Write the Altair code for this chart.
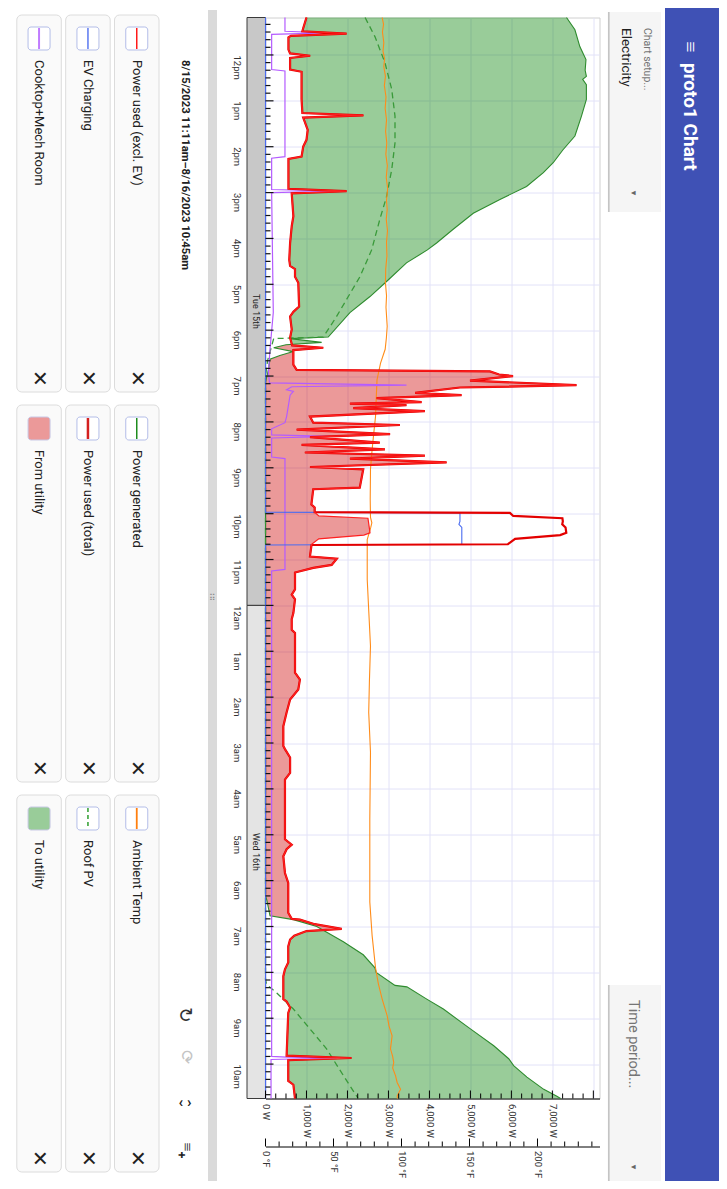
import altair as alt
import pandas as pd
import numpy as np

# ---------------- values ----------------
# power used excluding EV (W)
used_excl = [
    ("15 11:11", 1000), ("15 11:25", 920), ("15 11:29", 900), ("15 11:32", 1980), ("15 11:35", 620), ("15 11:37", 560),
    ("15 11:53", 560), ("15 11:58", 600), ("15 12:01", 1090), ("15 12:04", 600), ("15 12:19", 600), ("15 12:22", 880),
    ("15 12:58", 880), ("15 13:16", 900), ("15 13:19", 2390), ("15 13:22", 920), ("15 13:38", 1030), ("15 13:51", 1000),
    ("15 14:00", 920), ("15 14:13", 880), ("15 14:16", 560), ("15 14:55", 560), ("15 14:58", 1980), ("15 15:01", 640),
    ("15 15:31", 680), ("15 15:44", 640), ("15 16:06", 600), ("15 16:28", 580), ("15 16:36", 600), ("15 16:40", 720),
    ("15 16:50", 720), ("15 16:58", 800), ("15 17:29", 820), ("15 17:36", 680), ("15 17:42", 600), ("15 17:59", 640),
    ("15 18:10", 600), ("15 18:20", 650), ("15 18:23", 1410), ("15 18:26", 680), ("15 18:45", 680), ("15 18:52", 760),
    ("15 18:54", 5475), ("15 18:58", 5700), ("15 19:00", 6040), ("15 19:06", 4990), ("15 19:12", 7590), ("15 19:15", 4745),
    ("15 19:22", 3650), ("15 19:25", 4785), ("15 19:29", 2710), ("15 19:34", 3810), ("15 19:36", 2060), ("15 19:38", 3440),
    ("15 19:42", 2140), ("15 19:46", 3890), ("15 19:53", 1085), ("15 20:01", 1165), ("15 20:04", 3280), ("15 20:10", 760),
    ("15 20:16", 3040), ("15 20:20", 1085), ("15 20:27", 2790), ("15 20:30", 880), ("15 20:36", 2915), ("15 20:40", 960),
    ("15 20:44", 3890), ("15 20:48", 2060), ("15 20:53", 4420), ("15 20:59", 1085), ("15 21:02", 2385), ("15 21:26", 2300),
    ("15 21:28", 1165), ("15 21:48", 1120), ("15 21:52", 1200), ("15 21:58", 1200), ("15 22:03", 1300), ("15 22:06", 2500),
    ("15 22:25", 2550), ("15 22:28", 2400), ("15 22:33", 1300), ("15 22:40", 1125), ("15 22:56", 1085), ("15 22:59", 1740),
    ("15 23:07", 1615), ("15 23:11", 1165), ("15 23:17", 720), ("15 23:39", 720), ("15 23:46", 640), ("15 23:52", 720),
    ("16 00:10", 680), ("16 00:18", 640), ("16 00:32", 640), ("16 00:36", 720), ("16 01:28", 720), ("16 01:37", 840),
    ("16 01:50", 800), ("16 02:03", 600), ("16 02:20", 515), ("16 02:38", 435), ("16 03:04", 435), ("16 03:08", 475),
    ("16 03:19", 600), ("16 03:39", 600), ("16 03:48", 475), ("16 05:06", 475), ("16 05:13", 640), ("16 05:19", 515),
    ("16 05:28", 435), ("16 05:50", 475), ("16 06:03", 555), ("16 06:42", 555), ("16 06:50", 640), ("16 06:51", 840),
    ("16 06:57", 1200), ("16 07:03", 1860), ("16 07:06", 1000), ("16 07:12", 700), ("16 07:17", 600), ("16 07:26", 555),
    ("16 07:47", 555), ("16 07:56", 475), ("16 08:05", 435), ("16 08:35", 435), ("16 08:38", 515), ("16 08:46", 600),
    ("16 08:53", 555), ("16 09:49", 515), ("16 09:52", 2100), ("16 09:55", 555), ("16 10:22", 555), ("16 10:27", 680),
    ("16 10:45", 720),
]
# EV charging (W)
ev_charging = [("15 11:11", 0), ("15 21:58", 0), ("15 21:59", 4745), ("15 22:10", 4745), ("15 22:14", 4720),
               ("15 22:18", 4790), ("15 22:40", 4790), ("15 22:41", 0), ("16 10:45", 0)]
# power generated (W)
generated = [
    ("15 11:11", 7345), ("15 11:27", 7550), ("15 11:49", 7670), ("15 12:06", 7820), ("15 12:20", 7800), ("15 12:28", 7830),
    ("15 12:32", 7740), ("15 12:39", 7830), ("15 12:58", 7830), ("15 13:20", 7710), ("15 13:46", 7550), ("15 14:04", 7260),
    ("15 14:21", 7020), ("15 14:34", 6780), ("15 14:52", 6370), ("15 15:09", 5720), ("15 15:27", 5070), ("15 15:48", 4580),
    ("15 16:06", 4175), ("15 16:15", 3950), ("15 16:32", 3440), ("15 16:56", 2960), ("15 17:16", 2550), ("15 17:37", 2060),
    ("15 18:09", 1530), ("15 18:11", 600), ("15 18:16", 1370), ("15 18:19", 500), ("15 18:23", 200), ("15 18:28", 680),
    ("15 18:33", 350), ("15 18:38", 110), ("15 18:52", 70), ("15 19:08", 0), ("16 06:20", 0), ("16 06:25", 30),
    ("16 06:46", 110), ("16 06:51", 680), ("16 07:00", 1250), ("16 07:20", 1900), ("16 07:37", 2385), ("16 07:54", 2670),
    ("16 08:00", 2700), ("16 08:17", 3160), ("16 08:19", 3450), ("16 08:35", 3935), ("16 08:48", 4340), ("16 09:14", 5000),
    ("16 09:36", 5570), ("16 09:53", 5935), ("16 10:02", 6055), ("16 10:17", 6380), ("16 10:33", 6790), ("16 10:42", 7110),
    ("16 10:45", 7200),
]
# roof PV (W)
roof_pv = [
    ("15 11:11", 2430), ("15 11:36", 2670), ("15 12:10", 2915), ("15 12:45", 3080), ("15 13:20", 3160), ("15 13:55", 3160),
    ("15 14:30", 3080), ("15 15:05", 2955), ("15 15:35", 2790), ("15 16:15", 2590), ("15 16:50", 2305), ("15 17:16", 2020),
    ("15 17:42", 1735), ("15 18:09", 1410), ("15 18:11", 200), ("15 18:40", 50), ("15 19:00", 0), ("16 08:10", 0),
    ("16 08:16", 30), ("16 08:27", 275), ("16 08:48", 680), ("16 09:14", 1085), ("16 09:40", 1490), ("16 10:15", 1900),
    ("16 10:42", 2225), ("16 10:45", 2260),
]
# cooktop + mech room (W)
cooktop = [
    ("15 11:11", 475), ("15 11:29", 475), ("15 11:31", 1500), ("15 11:33", 150), ("15 12:19", 150), ("15 12:21", 475),
    ("15 14:13", 475), ("15 14:15", 150), ("15 14:56", 150), ("15 14:58", 1735), ("15 15:00", 150), ("15 17:37", 190),
    ("15 18:25", 110), ("15 18:56", 70), ("15 19:09", 100), ("15 19:12", 3440), ("15 19:14", 640), ("15 19:18", 515),
    ("15 19:20", 680), ("15 19:25", 600), ("15 19:53", 515), ("15 20:01", 475), ("15 20:09", 150), ("15 20:17", 150),
    ("15 20:19", 1600), ("15 20:21", 150), ("15 20:46", 150), ("15 20:48", 475), ("15 23:13", 475), ("15 23:15", 150),
    ("16 09:50", 150), ("16 09:51", 515), ("16 09:52", 1735), ("16 09:54", 135), ("16 10:45", 135),
]
# ambient temperature (deg F)
ambient = [
    ("15 11:11", 85.8), ("15 11:20", 86.8), ("15 11:30", 86.0), ("15 11:44", 87.0), ("15 11:55", 86.4), ("15 12:05", 87.6),
    ("15 12:15", 87.0), ("15 12:28", 88.2), ("15 12:40", 87.4), ("15 12:55", 88.6), ("15 13:10", 88.0), ("15 13:25", 89.0),
    ("15 13:40", 88.3), ("15 13:55", 89.2), ("15 14:10", 88.5), ("15 14:25", 89.6), ("15 14:40", 88.8), ("15 14:55", 89.8),
    ("15 15:10", 89.0), ("15 15:22", 89.5), ("15 15:35", 88.8), ("15 15:50", 89.7), ("15 16:05", 89.0), ("15 16:23", 89.3),
    ("15 16:40", 88.4), ("15 16:58", 88.2), ("15 17:15", 89.0), ("15 17:30", 88.6), ("15 17:55", 89.5), ("15 18:10", 88.9),
    ("15 18:25", 88.0), ("15 18:43", 84.6), ("15 19:05", 82.0), ("15 19:30", 81.4), ("15 19:53", 80.9), ("15 20:15", 79.6),
    ("15 20:36", 78.4), ("15 21:02", 77.2), ("15 21:41", 77.0), ("15 22:05", 77.2), ("15 22:12", 78.2), ("15 22:18", 77.4),
    ("15 22:34", 74.8), ("15 23:26", 74.8), ("16 00:10", 76.0), ("16 00:53", 77.2), ("16 01:40", 76.4), ("16 02:20", 75.9),
    ("16 03:12", 77.2), ("16 04:40", 76.7), ("16 06:28", 76.7), ("16 07:12", 78.4), ("16 07:54", 80.9), ("16 08:15", 83.0),
    ("16 08:35", 85.8), ("16 08:57", 89.5), ("16 09:10", 90.8), ("16 09:23", 93.1), ("16 09:40", 91.9), ("16 09:50", 93.5),
    ("16 09:58", 94.3), ("16 10:05", 93.5), ("16 10:15", 95.6), ("16 10:24", 96.8), ("16 10:33", 99.3), ("16 10:42", 96.8),
    ("16 10:45", 97.0),
]

day_names = ["Tue 15th", "Wed 16th"]
day_start = ["15 11:11", "16 00:00"]
day_end = ["16 00:00", "16 10:45"]
range_start, range_end = "15 11:11", "16 10:45"
date_title = "8/15/2023 11:11am–8/16/2023 10:45am"

power_labels = [0, 1000, 2000, 3000, 4000, 5000, 6000, 7000, 8000]
temp_labels = [0, 50, 100, 150, 200]

legend_rows = [
    ["Power used (excl. EV)", "Power generated", "Ambient Temp"],
    ["EV Charging", "Power used (total)", "Roof PV"],
    ["Cooktop+Mech Room", "From utility", "To utility"],
]

# ---------------- styles ----------------
C_EXCL, C_TOTAL, C_GEN, C_PV = "#ff2020", "#e30000", "#2e8b2e", "#3a9a3a"
C_TEMP, C_COOK, C_EV = "#ff8c1a", "#b45cff", "#4a6cf0"
GRID = "#e2e2f8"
swatch = {
    "Power used (excl. EV)": ("line", "#ff1a1a", 1.5, None),
    "Power generated": ("line", "#1e8c1e", 1.5, None),
    "Ambient Temp": ("line", "#ff7f0e", 1.8, None),
    "EV Charging": ("line", "#5a78f0", 1.5, None),
    "Power used (total)": ("line", "#d42020", 2.5, None),
    "Roof PV": ("line", "#2e9e2e", 1.5, [4, 3]),
    "Cooktop+Mech Room": ("line", "#c07cff", 2.0, None),
    "From utility": ("fill", "#eb9999", 0, None),
    "To utility": ("fill", "#99cc99", 0, None),
}

# ---------------- helpers ----------------
BASE = pd.Timestamp("2023-08-15 00:00")


def mins(s):
    d, hm = s.split()
    h, m = hm.split(":")
    return (int(d) - 15) * 1440 + int(h) * 60 + int(m)


def to_time(m):
    return BASE + pd.to_timedelta(np.asarray(m, dtype=float), unit="min")


def frame(pairs):
    m = [mins(a) for a, _ in pairs]
    return pd.DataFrame({"m": m, "t": to_time(m), "v": [float(b) for _, b in pairs]})


def dt(s):
    d, hm = s.split()
    h, m = hm.split(":")
    return alt.DateTime(year=2023, month=8, date=int(d), hours=int(h), minutes=int(m))


ue, evd, gen = frame(used_excl), frame(ev_charging), frame(generated)
pvd, cook, temp = frame(roof_pv), frame(cooktop), frame(ambient)

# total = excl. EV + EV
tm = np.unique(np.concatenate([ue.m, evd.m]))
total = pd.DataFrame({"t": to_time(tm), "v": np.interp(tm, ue.m, ue.v) + np.interp(tm, evd.m, evd.v)})

# net fills between used (excl. EV) and generated
gm = np.unique(np.concatenate([ue.m, gen.m]))
uu, gg = np.interp(gm, ue.m, ue.v), np.interp(gm, gen.m, gen.v)
rows = []
for i in range(len(gm)):
    if i > 0:
        d0, d1 = uu[i - 1] - gg[i - 1], uu[i] - gg[i]
        if d0 * d1 < 0:
            f = d0 / (d0 - d1)
            vc = uu[i - 1] + f * (uu[i] - uu[i - 1])
            rows.append((gm[i - 1] + f * (gm[i] - gm[i - 1]), vc, vc))
    rows.append((gm[i], uu[i], gg[i]))
fill = pd.DataFrame(rows, columns=["m", "used", "gen"])
fill["t"] = to_time(fill.m)
fill["plo"] = np.minimum(fill.gen, fill.used)
fill["ghi"] = np.maximum(fill.gen, fill.used)

sm, em = [mins(s) for s in day_start], [mins(s) for s in day_end]
days = pd.DataFrame({"t": to_time(sm), "t2": to_time(em), "day": day_names,
                     "tm": to_time([(a + b) / 2 for a, b in zip(sm, em)])})

hour_m = list(range(720, 2041, 60))
minor_m = [m for m in range(680, 2081, 10) if m % 60]
ticks_major = pd.DataFrame({"t": to_time(hour_m)})
ticks_minor = pd.DataFrame({"t": to_time(minor_m)})
pt_major = pd.DataFrame({"v": power_labels})
pt_minor = pd.DataFrame({"v": [v for v in range(0, 8001, 250) if v % 1000]})
tt_major = pd.DataFrame({"v": temp_labels})
tt_minor = pd.DataFrame({"v": [v for v in range(0, 241, 10) if v % 50]})

# ---------------- geometry ----------------
W, H = 334, 1081
X0, Y0 = 265.5, 17.5          # page position of the plot area

yscale = alt.Scale(domain=[dt(range_start), dt(range_end)], nice=False, reverse=True)
hour_vals = [alt.DateTime(year=2023, month=8, date=15 + (h // 24), hours=h % 24) for h in range(12, 35)]
yaxis = alt.Axis(values=hour_vals, labelExpr="lower(timeFormat(datum.value, '%-I%p'))", labelAngle=90,
                 labelAlign="left", labelBaseline="middle", labelPadding=29.5, ticks=False, tickSize=0,
                 domain=False, grid=True, gridColor=GRID, title=None, labelFontSize=9.5, labelColor="#333",
                 labelOverlap=False, labelFlush=False)


def Y(field="t"):
    return alt.Y(f"{field}:T", scale=yscale, axis=yaxis)


pscale = alt.Scale(domain=[0, 8150], nice=False, zero=False)
paxis = alt.Axis(values=power_labels, labelExpr="datum.value >= 8000 ? '' : format(datum.value, ',') + ' W'",
                 labelAngle=90, labelAlign="left", labelBaseline="middle", labelPadding=5, ticks=False, tickSize=0,
                 domainColor="#000", grid=True, gridColor=GRID, title=None, labelFontSize=9.5, labelColor="#333",
                 orient="bottom", labelOverlap=False, labelFlush=False)
tscale = alt.Scale(domain=[0, 245.6], nice=False, zero=False)
taxis = alt.Axis(values=temp_labels, labelExpr="datum.value + ' °F'", labelAngle=90, labelAlign="left",
                 labelBaseline="middle", labelPadding=4, ticks=False, tickSize=0, domainColor="#000", grid=False,
                 title=None, labelFontSize=9.5, labelColor="#333", orient="bottom", offset=48,
                 labelOverlap=False, labelFlush=False)


def XP(field, axis=True):
    return alt.X(f"{field}:Q", scale=pscale, axis=paxis if axis else None)


def XT(field, axis=True):
    return alt.X(f"{field}:Q", scale=tscale, axis=taxis if axis else None)


one = pd.DataFrame({"k": [0]})


def rect(x1, x2, y1, y2, **kw):
    return alt.Chart(one).mark_rect(**kw).encode(
        x=alt.value(x1 - X0), x2=alt.value(x2 - X0), y=alt.value(y1 - Y0), y2=alt.value(y2 - Y0))


def label(x, y, s, size=13, color="#212121", weight="normal", angle=90, align="left"):
    return alt.Chart(one).mark_text(text=s, fontSize=size, fill=color, fontWeight=weight, angle=angle,
                                    align=align, baseline="middle").encode(
        x=alt.value(x - X0), y=alt.value(y - Y0))


def vline(x, y1, y2, color, width, dash=None):
    kw = dict(color=color, strokeWidth=width)
    if dash:
        kw["strokeDash"] = dash
    return alt.Chart(one).mark_rule(**kw).encode(x=alt.value(x - X0), y=alt.value(y1 - Y0), y2=alt.value(y2 - Y0))


# ---------------- chrome (app frame around the chart) ----------------
chrome = [
    rect(665, 719, 8, 1181, fill="#3f51b5"),
    label(690, 47, "≡", size=20, color="#ffffff", align="center"),
    label(690, 63, "proto1 Chart", size=19, color="#ffffff", weight="bold"),
    rect(608, 661, 12, 212, fill="#f5f5f5"),
    vline(608.8, 12, 212, "#c4c4c4", 1.7),
    label(647, 28, "Chart setup...", size=10.5, color="#757575"),
    label(626, 28, "Electricity", size=13.5, color="#1f1f1f"),
    label(633, 193, "▼", size=8, color="#666666", align="center"),
    rect(608, 661, 985, 1181, fill="#f5f5f5"),
    vline(608.8, 985, 1181, "#c4c4c4", 1.7),
    label(633, 1000, "Time period...", size=14.5, color="#757575"),
    label(633, 1167, "▼", size=8, color="#666666", align="center"),
    rect(208, 217, 10, 1181, fill="#dadada"),
    label(212.5, 598, "⠿", size=9, color="#8a8a8a", angle=0, align="center"),
    label(185, 60, date_title, size=11.3, weight="bold"),
    label(185, 1015, "↻", size=19, color="#333333", align="center"),
    label(186, 1057, "⟳", size=17, color="#c4c4c4", align="center"),
    label(185, 1102, "‹ ›", size=15, weight="bold", angle=0, align="center"),
    label(187, 1147, "≡", size=16, color="#222222", align="center"),
    label(181, 1155, "+", size=12, color="#222222", weight="bold", align="center"),
]
bx_left = [114.5, 65.7, 16.8]
by_top = [15, 405, 795]
for r, row in enumerate(legend_rows):
    for c, name in enumerate(row):
        x1, y1 = bx_left[r], by_top[c]
        cx = x1 + 22.25
        chrome.append(rect(x1, x1 + 44.5, y1, y1 + 377, fill="#fafafa", stroke="#dcdcdc", strokeWidth=1,
                           cornerRadius=5))
        kind, col, wdt, dash = swatch[name]
        if kind == "fill":
            chrome.append(rect(cx - 11, cx + 11, y1 + 12, y1 + 35, fill=col, stroke="#c9c9e6", strokeWidth=1,
                               cornerRadius=3))
        else:
            chrome.append(rect(cx - 11, cx + 11, y1 + 12, y1 + 35, fill="#ffffff", stroke="#b3bde8",
                               strokeWidth=1, cornerRadius=3))
            chrome.append(vline(cx, y1 + 13, y1 + 34, col, wdt, dash))
        chrome.append(label(cx, y1 + 45, name, size=13))
        chrome.append(label(cx, y1 + 363, "✕", size=20, align="center"))

# ---------------- the chart ----------------
strip = alt.Chart(days).mark_rect(stroke="#3a3a3a", strokeWidth=1).encode(
    y=Y(), y2="t2:T", x=alt.value(247 - X0), x2=alt.value(0),
    color=alt.Color("day:N", scale=alt.Scale(domain=day_names, range=["#c8c8c8", "#e4e4e4"]), legend=None))
strip_text = alt.Chart(days).mark_text(angle=90, fontSize=9, color="#222222", baseline="middle",
                                       align="center").encode(
    y=Y("tm"), x=alt.value((247 + X0) / 2 - X0), text="day:N")

pink = alt.Chart(fill).mark_area(color="#cc0000", opacity=0.4).encode(
    y=Y(), x=XP("plo"), x2="used:Q")
green = alt.Chart(fill).mark_area(color="#008000", opacity=0.4).encode(
    y=Y(), x=XP("used"), x2="ghi:Q")
g_fill = alt.layer(pink, green)


def line(df, color, width, dash=None, axis=False, temp_scale=False):
    kw = dict(color=color, strokeWidth=width)
    if dash:
        kw["strokeDash"] = dash
    xx = XT("v", axis) if temp_scale else XP("v", axis)
    return alt.Chart(df).mark_line(**kw).encode(y=Y(), x=xx, order="t:T")


g_lines1 = alt.layer(line(gen, C_GEN, 1.1), line(pvd, C_PV, 1.3, [6, 4]))
temp_ticks_major = alt.Chart(tt_major).mark_rule(color="#000", strokeWidth=1).encode(
    x=XT("v"), y=alt.value(H + 48 - 8), y2=alt.value(H + 48))
temp_ticks_minor = alt.Chart(tt_minor).mark_rule(color="#000", strokeWidth=1).encode(
    x=XT("v"), y=alt.value(H + 48 - 5), y2=alt.value(H + 48))
g_temp = alt.layer(line(temp, C_TEMP, 1.1, axis=True, temp_scale=True), temp_ticks_major, temp_ticks_minor)

p_ticks_major = alt.Chart(pt_major).mark_rule(color="#000", strokeWidth=1).encode(
    x=XP("v", False), y=alt.value(H - 8), y2=alt.value(H))
p_ticks_minor = alt.Chart(pt_minor).mark_rule(color="#000", strokeWidth=1).encode(
    x=XP("v", False), y=alt.value(H - 5), y2=alt.value(H))
g_lines2 = alt.layer(line(cook, C_COOK, 1.2), line(evd, C_EV, 1.1), line(total, C_TOTAL, 2.2),
                     line(ue, C_EXCL, 1.2), p_ticks_major, p_ticks_minor)

t_major = alt.Chart(ticks_major).mark_rule(color="#111", strokeWidth=1.2).encode(
    y=Y(), x=alt.value(0), x2=alt.value(8))
t_minor = alt.Chart(ticks_minor).mark_rule(color="#111", strokeWidth=1.2).encode(
    y=Y(), x=alt.value(0), x2=alt.value(5))

chart = alt.layer(
    *chrome, strip, strip_text, g_fill, g_lines1, g_temp, g_lines2, t_major, t_minor
).resolve_scale(x="independent").properties(
    width=W, height=H,
    padding={"left": X0 - 8, "top": Y0 - 8, "right": 711 - (X0 - 8) - W, "bottom": 1173 - (Y0 - 8) - H},
    autosize=alt.AutoSizeParams(type="none"),
).configure(font="Roboto").configure_view(stroke="#d0d0d0")

chart.save("out.html", embed_options={"renderer": "svg", "actions": False})
